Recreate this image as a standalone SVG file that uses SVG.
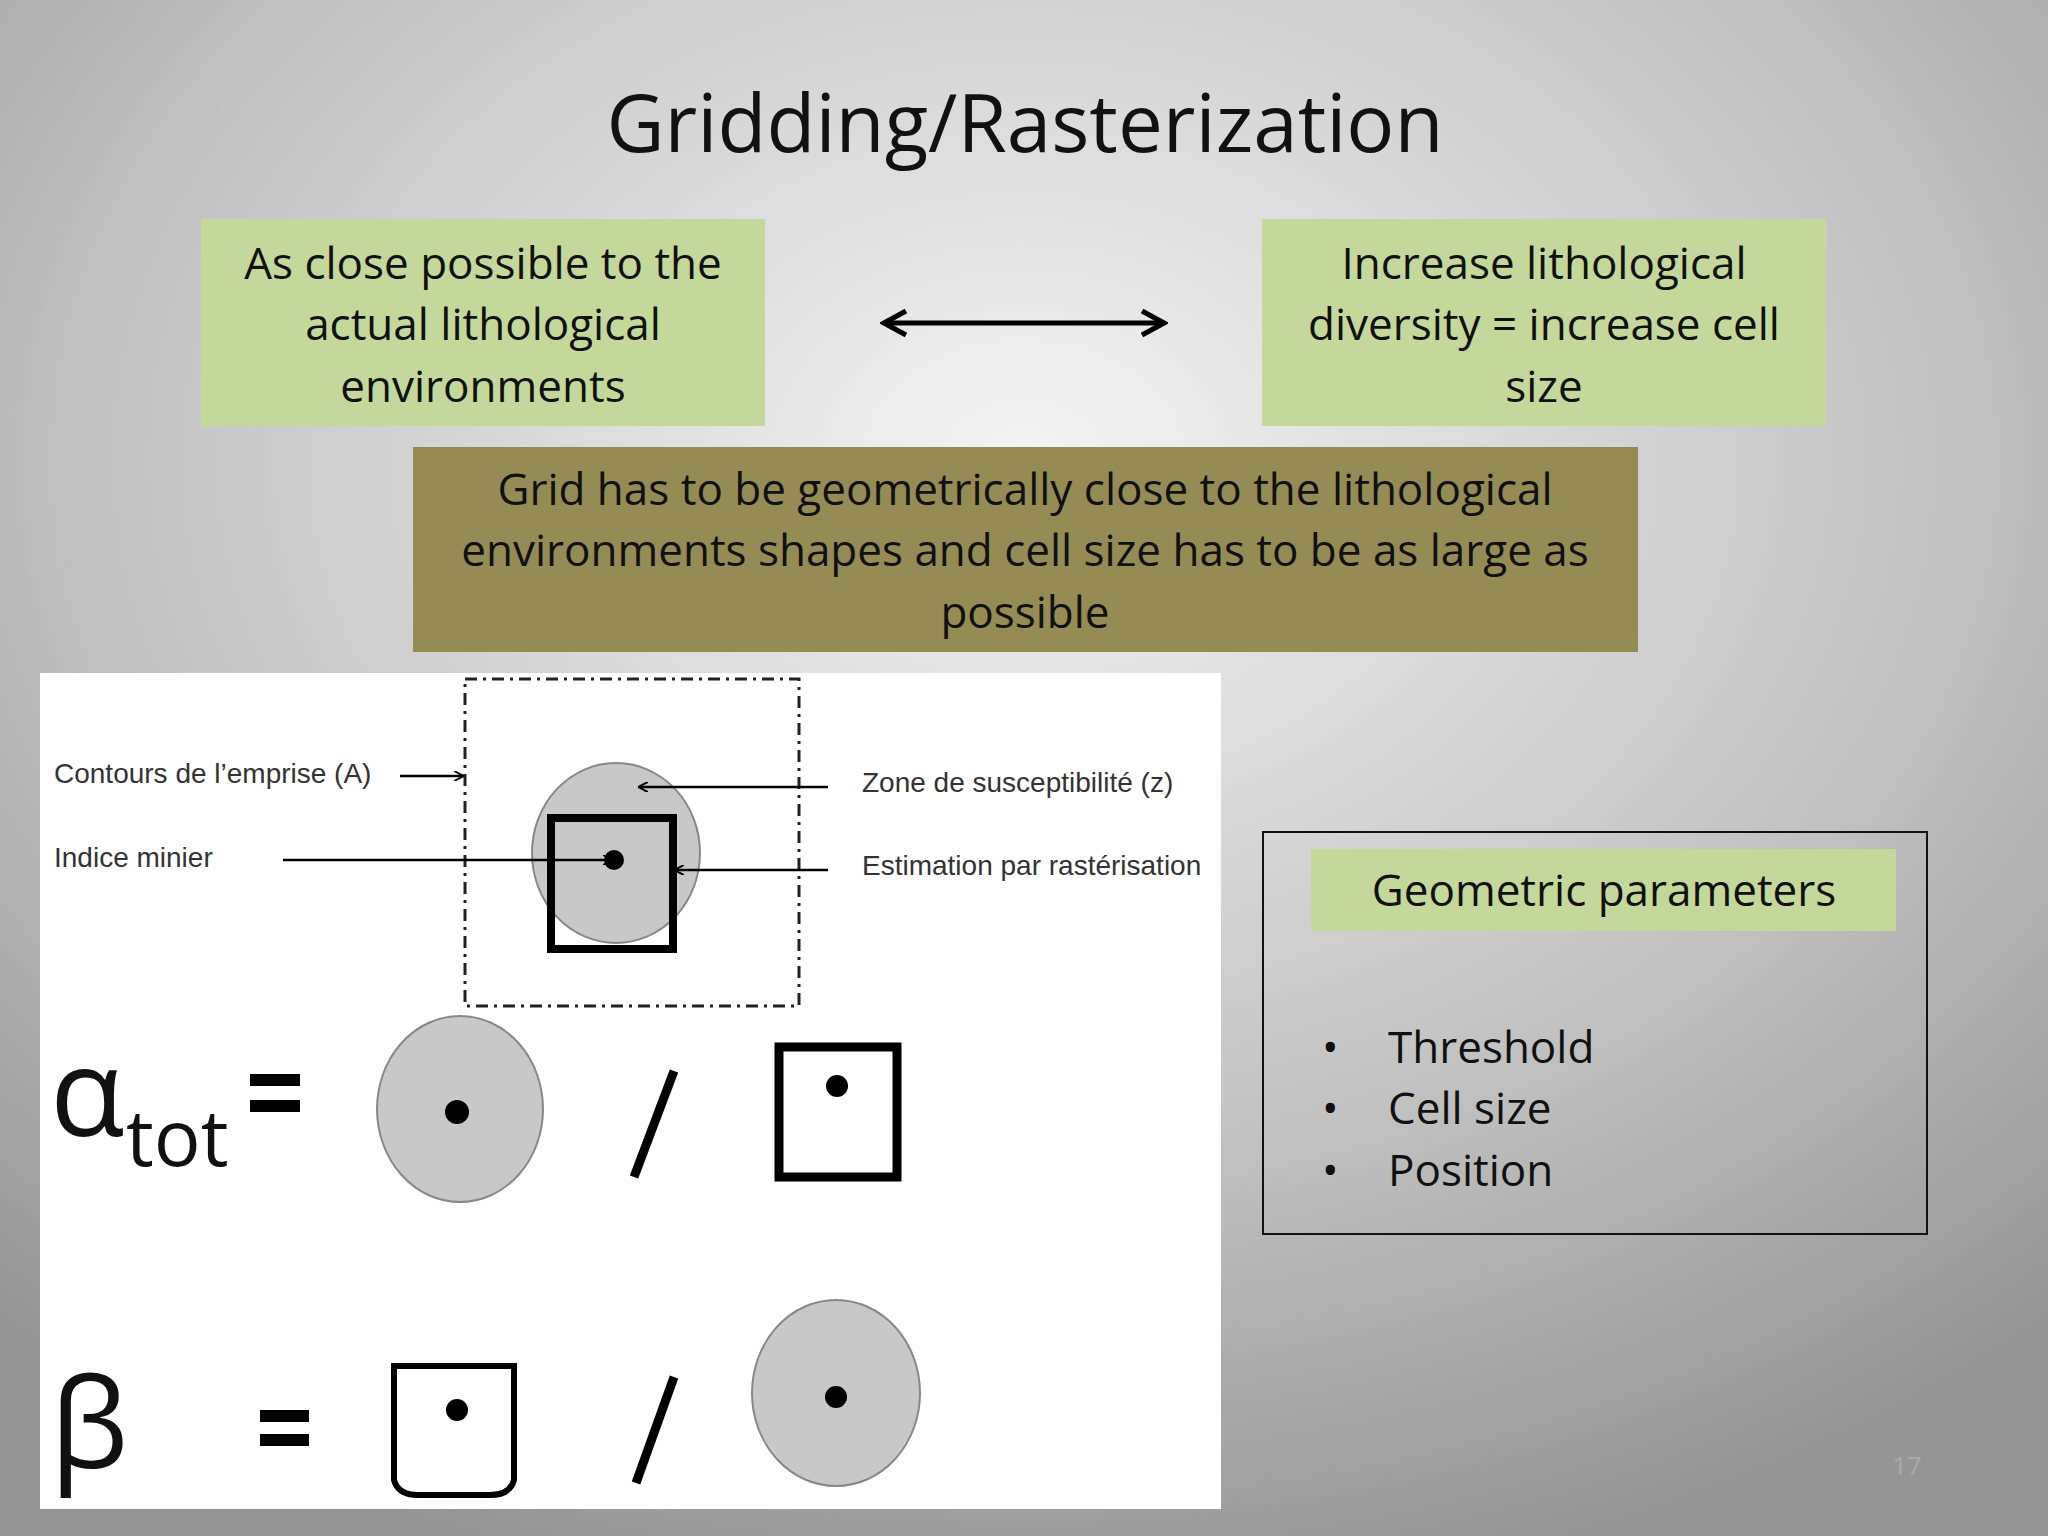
<svg xmlns="http://www.w3.org/2000/svg" width="2048" height="1536" viewBox="0 0 2048 1536">
<defs>
<radialGradient id="bg" cx="0.5" cy="0.3" r="0.75">
<stop offset="0" stop-color="#f4f4f4"/><stop offset="0.6" stop-color="#c2c2c2"/><stop offset="1" stop-color="#959595"/>
</radialGradient>
<marker id="ah" markerWidth="10" markerHeight="10" refX="9" refY="5" orient="auto" markerUnits="userSpaceOnUse"><path d="M0,0 L10,5 L0,10" fill="none" stroke="#000" stroke-width="2"/></marker>
<marker id="big" markerWidth="30" markerHeight="30" refX="26" refY="15" orient="auto-start-reverse" markerUnits="userSpaceOnUse"><path d="M4,3 L26,15 L4,27" fill="none" stroke="#000" stroke-width="5"/></marker>
</defs>
<style>
.t{font-family:"Open Sans","Noto Sans","Liberation Sans",sans-serif;fill:#111;text-anchor:middle}
.b{font-size:44px}
.f{font-family:"Liberation Sans",sans-serif;font-size:28px;fill:#333}
.g{fill:#c8c8c8;stroke:#888;stroke-width:2}
.k{fill:none;stroke:#000;stroke-width:9}
</style>
<rect width="2048" height="1536" fill="url(#bg)"/>
<text class="t" x="1025" y="152" font-size="80">Gridding/Rasterization</text>
<g id="left">
<rect x="201" y="219" width="564" height="207" fill="#c5d89b"/>
<text class="t b" x="483" y="279">As close possible to the</text>
<text class="t b" x="483" y="340">actual lithological</text>
<text class="t b" x="483" y="402">environments</text>
</g>
<g id="right">
<rect x="1262" y="219" width="564" height="207" fill="#c5d89b"/>
<text class="t b" x="1544" y="279">Increase lithological</text>
<text class="t b" x="1544" y="340">diversity = increase cell</text>
<text class="t b" x="1544" y="402">size</text>
</g>
<g id="connectors">
<line x1="884" y1="323" x2="1164" y2="323" stroke="#000" stroke-width="5" marker-start="url(#big)" marker-end="url(#big)"/>
</g>
<g id="center">
<rect x="413" y="447" width="1225" height="205" fill="#958b55"/>
<text class="t b" x="1025" y="505">Grid has to be geometrically close to the lithological</text>
<text class="t b" x="1025" y="566">environments shapes and cell size has to be as large as</text>
<text class="t b" x="1025" y="628">possible</text>
</g>
<g id="figure">
<rect x="40" y="673" width="1181" height="836" fill="#fff"/>
<rect x="465" y="679" width="334" height="327" fill="none" stroke="#222" stroke-width="3" stroke-dasharray="12,6,3,6"/>
<ellipse class="g" cx="616" cy="853" rx="84" ry="90"/>
<rect x="551" y="818" width="122" height="131" fill="none" stroke="#000" stroke-width="8"/>
<circle cx="614" cy="860" r="10"/>
<text class="f" x="54" y="783">Contours de l’emprise (A)</text>
<line x1="400" y1="776" x2="463" y2="776" stroke="#000" stroke-width="2.5" marker-end="url(#ah)"/>
<text class="f" x="54" y="867">Indice minier</text>
<line x1="283" y1="860" x2="612" y2="860" stroke="#000" stroke-width="2.5" marker-end="url(#ah)"/>
<text class="f" x="862" y="792">Zone de susceptibilité (z)</text>
<line x1="828" y1="787" x2="639" y2="787" stroke="#000" stroke-width="2.5" marker-end="url(#ah)"/>
<text class="f" x="862" y="875">Estimation par rastérisation</text>
<line x1="828" y1="870" x2="675" y2="870" stroke="#000" stroke-width="2.5" marker-end="url(#ah)"/>
<text x="50" y="1136" font-family="Open Sans,sans-serif" font-size="122" fill="#111">α</text>
<text x="126" y="1166" font-family="Open Sans,sans-serif" font-size="78" fill="#111">tot</text>
<rect x="250" y="1074" width="50" height="12"/><rect x="250" y="1100" width="50" height="12"/>
<ellipse class="g" cx="460" cy="1109" rx="83" ry="93"/>
<circle cx="457" cy="1112" r="12"/>
<line x1="674" y1="1071" x2="634" y2="1177" stroke="#000" stroke-width="9"/>
<rect class="k" x="779" y="1047" width="118" height="130"/>
<circle cx="837" cy="1086" r="11"/>
<text x="50" y="1468" font-family="Open Sans,sans-serif" font-size="125" fill="#111">β</text>
<rect x="260" y="1410" width="49" height="12"/><rect x="260" y="1434" width="49" height="12"/>
<path d="M394,1366 H514 V1480 Q510,1495 490,1495 H418 Q398,1495 394,1480 Z" fill="none" stroke="#000" stroke-width="6"/>
<circle cx="457" cy="1410" r="11"/>
<line x1="674" y1="1377" x2="636" y2="1483" stroke="#000" stroke-width="9"/>
<ellipse class="g" cx="836" cy="1393" rx="84" ry="93"/>
<circle cx="836" cy="1397" r="11"/>
</g>
<g id="params">
<rect x="1263" y="832" width="664" height="402" fill="none" stroke="#111" stroke-width="2"/>
<rect x="1311" y="849" width="585" height="82" fill="#c5d89b"/>
<text class="t b" x="1604" y="906">Geometric parameters</text>
<g class="t b" style="text-anchor:start">
<text x="1322" y="1063">•</text><text x="1388" y="1063">Threshold</text>
<text x="1322" y="1124">•</text><text x="1388" y="1124">Cell size</text>
<text x="1322" y="1186">•</text><text x="1388" y="1186">Position</text>
</g>
</g>
<text x="1907" y="1475" font-family="Open Sans,sans-serif" font-size="26" fill="#aaa" text-anchor="middle">17</text>
</svg>
